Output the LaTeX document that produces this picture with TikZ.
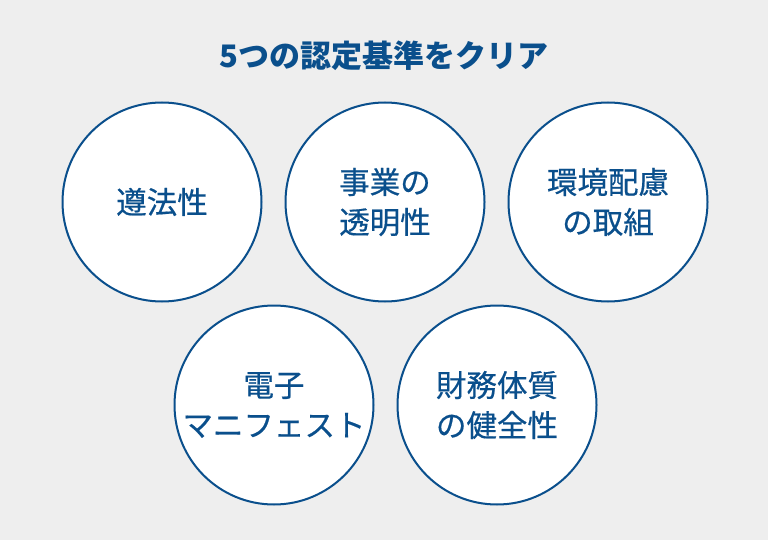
\documentclass[tikz,border=0pt]{standalone}
\usepackage{fontspec}
\setmainfont{Noto Sans CJK JP}
\newfontfamily\medfont[FakeBold=0.5]{Noto Sans CJK JP}
\definecolor{bg}{HTML}{EEEEEE}
\definecolor{navy}{HTML}{0A4F8C}
\begin{document}
\begin{tikzpicture}[x=1pt,y=-1pt,
  circ/.style={circle,draw=navy,line width=2pt,fill=white,minimum size=199pt,inner sep=0pt,
    text=navy,font=\medfont\fontsize{30.5}{40}\selectfont,align=center},
  ttl/.style={text=navy,font=\fontsize{31}{36}\selectfont\bfseries}]
\fill[bg] (0,0) rectangle (768,540);
\useasboundingbox (0,0) rectangle (768,540);
\node[ttl] (title) at (384,56) {5つの認定基準をクリア};
\node[circ] (c1) at (162,202) {遵法性};
\node[circ] (c2) at (385,202) {事業の\\透明性};
\node[circ] (c3) at (608,202) {環境配慮\\の取組};
\node[circ] (c4) at (274,405) {電子\\マニフェスト};
\node[circ] (c5) at (497,405) {財務体質\\の健全性};
\end{tikzpicture}
\end{document}
